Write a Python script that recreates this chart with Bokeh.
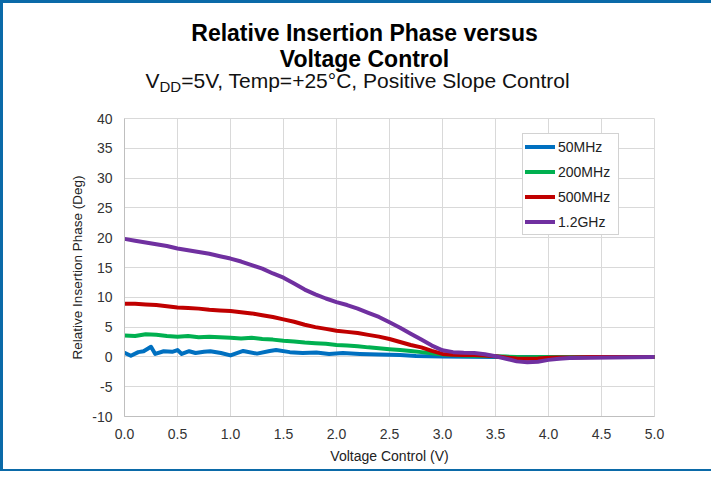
from bokeh.plotting import figure
from bokeh.layouts import column
from bokeh.models import Legend, LegendItem, FixedTicker, Range1d, NumeralTickFormatter
from bokeh.core.properties import value
from bokeh.embed import file_html
from bokeh.resources import INLINE

# ---- data ----
voltage = [0.0, 0.1, 0.2, 0.3, 0.4, 0.5, 0.6, 0.7, 0.8, 0.9,
           1.0, 1.1, 1.2, 1.3, 1.4, 1.5, 1.6, 1.7, 1.8, 1.9,
           2.0, 2.1, 2.2, 2.3, 2.4, 2.5, 2.6, 2.7, 2.8, 2.9,
           3.0, 3.1, 3.2, 3.3, 3.4, 3.5, 3.6, 3.7, 3.8, 3.9,
           4.0, 4.1, 4.2, 4.4, 4.6, 4.8, 5.0]

phase_200mhz = [3.6, 3.5, 3.8, 3.7, 3.5, 3.4, 3.5, 3.3, 3.4, 3.3,
                3.2, 3.1, 3.2, 3.0, 2.9, 2.7, 2.6, 2.4, 2.3, 2.2,
                2.0, 1.9, 1.8, 1.6, 1.45, 1.3, 1.15, 1.0, 0.8, 0.6,
                0.4, 0.3, 0.25, 0.2, 0.15, 0.1, 0.05, 0.0, -0.05, 0.0,
                0.0, 0.0, 0.0, 0.0, 0.0, 0.0, 0.0]

phase_500mhz = [8.9, 8.9, 8.8, 8.7, 8.5, 8.3, 8.2, 8.1, 7.9, 7.8,
                7.7, 7.5, 7.3, 7.0, 6.7, 6.3, 5.9, 5.4, 5.0, 4.7,
                4.4, 4.2, 4.0, 3.7, 3.4, 3.0, 2.5, 2.0, 1.6, 1.0,
                0.5, 0.35, 0.3, 0.3, 0.25, 0.1, -0.1, -0.25, -0.3, -0.25,
                -0.15, -0.1, -0.1, 0.0, 0.0, 0.0, 0.0]

phase_1g2 = [19.8, 19.5, 19.2, 18.9, 18.6, 18.2, 17.9, 17.6, 17.3, 16.9,
             16.5, 16.0, 15.4, 14.8, 14.0, 13.3, 12.3, 11.3, 10.5, 9.8,
             9.2, 8.7, 8.1, 7.4, 6.7, 5.8, 4.9, 3.9, 2.9, 1.9,
             1.1, 0.8, 0.7, 0.65, 0.45, 0.1, -0.3, -0.75, -0.9, -0.8,
             -0.5, -0.3, -0.2, -0.15, -0.1, -0.05, 0.0]

voltage_50mhz = [0.0, 0.06, 0.13, 0.18, 0.25, 0.29, 0.37, 0.45, 0.5, 0.54,
                 0.61, 0.67, 0.75, 0.81, 0.91, 1.0, 1.06, 1.12, 1.25, 1.37,
                 1.43, 1.56, 1.68, 1.81, 1.93, 2.06, 2.22, 2.4, 2.6, 2.75,
                 3.0, 3.5, 4.0, 4.5, 5.0]
phase_50mhz = [0.7, 0.2, 0.8, 0.95, 1.7, 0.5, 0.95, 0.85, 1.15, 0.5,
               0.95, 0.65, 0.85, 0.95, 0.65, 0.25, 0.65, 1.0, 0.55, 1.0,
               1.15, 0.8, 0.65, 0.75, 0.5, 0.65, 0.5, 0.4, 0.3, 0.15,
               0.05, 0.0, 0.0, 0.0, 0.0]

x_ticks = [0.0, 0.5, 1.0, 1.5, 2.0, 2.5, 3.0, 3.5, 4.0, 4.5, 5.0]
y_ticks = [-10, -5, 0, 5, 10, 15, 20, 25, 30, 35, 40]
y_tick_labels = ["-10", "-5", "0", "5", "10", "15", "20", "25", "30", "35", "40"]

series_names = ["50MHz", "200MHz", "500MHz", "1.2GHz"]
series_colors = ["#0070c0", "#00b050", "#c00000", "#7030a0"]

title_lines = ["Relative Insertion Phase versus", "Voltage Control"]
subtitle_parts = ["V", "DD", "=5V, Temp=+25°C, Positive Slope Control"]

FONT = "Liberation Sans"
W = 711
HEAD_H = 100
FR_L, FR_R = 124, 654   # frame edges shared by both stacked plots
DY = -8                 # vertical correction observed in the heading plot

# ---------------- heading (titles) ----------------
head = figure(width=W, height=HEAD_H, output_backend="svg", toolbar_location=None,
              x_range=Range1d(FR_L, FR_R), y_range=Range1d(HEAD_H, 0),
              x_axis_type=None, y_axis_type=None,
              min_border_left=FR_L, min_border_right=W - FR_R,
              min_border_top=0, min_border_bottom=0)
head.grid.visible = False
head.outline_line_color = None
head.background_fill_color = None
head.border_fill_color = None

head.text(x=[364], y=[40.7 + DY], text=[title_lines[0]], text_align="center",
          text_baseline="alphabetic", text_font=value(FONT), text_font_style="bold",
          text_font_size="23px", text_color="#000000")
head.text(x=[364], y=[66.7 + DY], text=[title_lines[1]], text_align="center",
          text_baseline="alphabetic", text_font=value(FONT), text_font_style="bold",
          text_font_size="23px", text_color="#000000")
head.text(x=[145], y=[88.3 + DY], text=[subtitle_parts[0]], text_align="left",
          text_baseline="alphabetic", text_font=value(FONT),
          text_font_size="21px", text_color="#111111")
head.text(x=[159], y=[94 + DY], text=[subtitle_parts[1]], text_align="left",
          text_baseline="alphabetic", text_font=value(FONT),
          text_font_size="15px", text_color="#111111")
head.text(x=[180.7], y=[88.3 + DY], text=[subtitle_parts[2]], text_align="left",
          text_baseline="alphabetic", text_font=value(FONT),
          text_font_size="21px", text_color="#111111")

# ---------------- chart ----------------
p = figure(width=W, height=371, output_backend="svg", toolbar_location=None,
           x_range=Range1d(0, 5), y_range=Range1d(-10, 40),
           min_border_left=FR_L, min_border_right=W - FR_R,
           min_border_top=18, min_border_bottom=55)
p.border_fill_color = None
p.background_fill_color = "white"
p.outline_line_color = "#d9d9d9"

p.xaxis.ticker = FixedTicker(ticks=x_ticks)
p.yaxis.ticker = FixedTicker(ticks=y_ticks)
p.xaxis.formatter = NumeralTickFormatter(format="0.0")
p.yaxis.major_label_overrides = {t: s for t, s in zip(y_ticks, y_tick_labels)}
for ax in (p.xaxis[0], p.yaxis[0]):
    ax.axis_line_color = "#bfbfbf"
    ax.major_tick_line_color = None
    ax.minor_tick_line_color = None
    ax.major_tick_out = 0
    ax.major_tick_in = 0
    ax.major_label_standoff = 12
    ax.major_label_text_font = FONT
    ax.major_label_text_font_size = "14px"
    ax.major_label_text_color = "#333333"
    ax.axis_label_text_font = FONT
    ax.axis_label_text_font_style = "normal"
    ax.axis_label_text_color = "#222222"
p.xaxis.axis_label = "Voltage Control (V)"
p.xaxis.axis_label_text_font_size = "14px"
p.xaxis.axis_label_standoff = 6
p.yaxis.axis_label = "Relative Insertion Phase (Deg)"
p.yaxis.axis_label_text_font_size = "13.5px"
p.yaxis.axis_label_standoff = 4

p.xgrid.ticker = FixedTicker(ticks=x_ticks)
p.ygrid.ticker = FixedTicker(ticks=y_ticks)
p.xgrid.grid_line_color = "#d9d9d9"
p.ygrid.grid_line_color = "#d9d9d9"

r50 = p.line(voltage_50mhz, phase_50mhz, line_color=series_colors[0], line_width=4,
             line_join="round", line_cap="round")
r200 = p.line(voltage, phase_200mhz, line_color=series_colors[1], line_width=4,
              line_join="round", line_cap="round")
r500 = p.line(voltage, phase_500mhz, line_color=series_colors[2], line_width=4,
              line_join="round", line_cap="round")
r1g2 = p.line(voltage, phase_1g2, line_color=series_colors[3], line_width=4,
              line_join="round", line_cap="round")

legend = Legend(items=[LegendItem(label=n, renderers=[r]) for n, r in
                       zip(series_names, [r50, r200, r500, r1g2])],
                location=(398, 181))
legend.glyph_width = 30
legend.glyph_height = 21
legend.label_height = 21
legend.spacing = 4
legend.padding = 2
legend.margin = 0
legend.label_standoff = 3
legend.label_width = 58
legend.label_text_font = FONT
legend.label_text_font_size = "14px"
legend.label_text_color = "#222222"
legend.border_line_color = "#a6a6a6"
legend.border_line_width = 1
legend.background_fill_color = "white"
legend.background_fill_alpha = 1.0
p.add_layout(legend)

page = column(head, p, spacing=0)
page.styles = {"box-shadow": "inset 3px 3px 0 0 #0b6aa8, inset 0 -2px 0 0 #0b6aa8"}

open("out.html", "w").write(file_html(page, INLINE))
